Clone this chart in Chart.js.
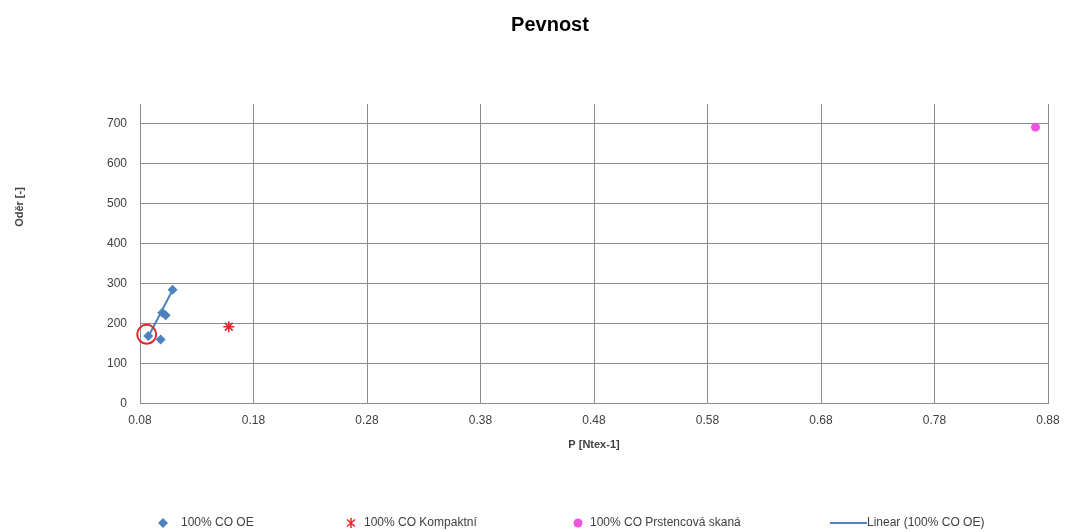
<!DOCTYPE html>
<html>
<head>
<meta charset="utf-8">
<script src="https://cdn.jsdelivr.net/npm/chart.js@4/dist/chart.umd.min.js"></script>
<style>
html,body{margin:0;padding:0;background:#fff;}
#wrap{width:1067px;height:532px;position:relative;}
</style>
</head>
<body>
<div id="wrap"><canvas id="c" width="1067" height="532"></canvas></div>
<script>
// ---- data ----
const chartTitle = "Pevnost";
const xAxisTitle = "P [Ntex-1]";
const yAxisTitle = "Oděr [-]";

const seriesNames = ["100% CO OE", "100% CO Kompaktní", "100% CO Prstencová skaná", "Linear (100% CO OE)"];

const oeP    = [0.0873, 0.0982, 0.0996, 0.1026, 0.1087];
const oeOder = [169, 160, 227, 221, 285];

const kompaktP    = [0.1582];
const kompaktOder = [192];

const prstenP    = [0.869];
const prstenOder = [692];

// trend line end points as drawn in the picture
const trendP    = [0.0873, 0.1087];
const trendOder = [167, 284];

// red circle highlight
const markP    = [0.0859];
const markOder = [173];

const xTicks = [0.08, 0.18, 0.28, 0.38, 0.48, 0.58, 0.68, 0.78, 0.88];
const yTicks = [0, 100, 200, 300, 400, 500, 600, 700];
const yMax = 750;

const toPts = (xs, ys) => xs.map((x, i) => ({x: x, y: ys[i]}));

const blue = '#4F81BD';
const red = '#E3262B';
const pink = '#EE55DD';
const gridCol = '#8C8C8C';
const textCol = '#404040';
const fontFam = '"Liberation Sans", Arial, sans-serif';

const customText = {
  id: 'customText',
  afterDraw(chart) {
    const ctx = chart.ctx;
    ctx.save();
    // y axis title
    ctx.fillStyle = textCol;
    ctx.font = 'bold 11px ' + fontFam;
    ctx.translate(20, 207);
    ctx.rotate(-Math.PI / 2);
    ctx.textAlign = 'center';
    ctx.textBaseline = 'middle';
    ctx.fillText(yAxisTitle, 0, 0);
    ctx.restore();

    // legend
    ctx.save();
    ctx.font = '12px ' + fontFam;
    ctx.textBaseline = 'middle';
    ctx.fillStyle = textCol;
    const y = 523;
    const starts = [158, 346, 573, 830];
    seriesNames.forEach((name, i) => {
      let x = starts[i];
      ctx.save();
      if (i === 0) {
        ctx.fillStyle = blue;
        ctx.beginPath();
        ctx.moveTo(x + 5, y - 5); ctx.lineTo(x + 10, y); ctx.lineTo(x + 5, y + 5); ctx.lineTo(x, y);
        ctx.closePath(); ctx.fill();
        x += 23;
      } else if (i === 1) {
        ctx.strokeStyle = red; ctx.lineWidth = 1.5;
        const cx = x + 5, r = 5;
        ctx.beginPath();
        ctx.moveTo(cx, y - r); ctx.lineTo(cx, y + r);
        ctx.moveTo(cx - r * 0.8, y - r * 0.7); ctx.lineTo(cx + r * 0.8, y + r * 0.7);
        ctx.moveTo(cx + r * 0.8, y - r * 0.7); ctx.lineTo(cx - r * 0.8, y + r * 0.7);
        ctx.stroke();
        x += 18;
      } else if (i === 2) {
        ctx.fillStyle = pink;
        ctx.beginPath(); ctx.arc(x + 5, y, 4.5, 0, Math.PI * 2); ctx.fill();
        x += 17;
      } else {
        ctx.strokeStyle = blue; ctx.lineWidth = 2;
        ctx.beginPath(); ctx.moveTo(x, y); ctx.lineTo(x + 37, y); ctx.stroke();
        x += 37;
      }
      ctx.restore();
      ctx.fillStyle = textCol;
      ctx.fillText(name, x, y);
    });
    ctx.restore();
  }
};

new Chart(document.getElementById('c'), {
  type: 'scatter',
  data: {
    datasets: [
      {
        label: 'mark',
        data: toPts(markP, markOder),
        pointStyle: 'circle',
        pointRadius: 9.5,
        pointHoverRadius: 9.5,
        borderColor: red,
        borderWidth: 2,
        backgroundColor: 'rgba(0,0,0,0)',
        clip: false,
        order: 0
      },
      {
        label: seriesNames[0],
        data: toPts(oeP, oeOder),
        pointStyle: 'rectRot',
        pointRadius: 5,
        backgroundColor: blue,
        borderColor: blue,
        borderWidth: 0,
        order: 1
      },
      {
        label: seriesNames[1],
        data: toPts(kompaktP, kompaktOder),
        pointStyle: 'star',
        pointRadius: 5.5,
        borderColor: red,
        backgroundColor: red,
        borderWidth: 1.5,
        order: 1
      },
      {
        label: seriesNames[2],
        data: toPts(prstenP, prstenOder),
        pointStyle: 'circle',
        pointRadius: 4.5,
        backgroundColor: pink,
        borderColor: pink,
        borderWidth: 0,
        order: 1
      },
      {
        label: seriesNames[3],
        data: toPts(trendP, trendOder),
        showLine: true,
        pointRadius: 0,
        borderColor: blue,
        borderWidth: 2,
        order: 2
      }
    ]
  },
  options: {
    responsive: false,
    animation: false,
    events: [],
    layout: { padding: { left: 52, right: 19, top: 0, bottom: 0 } },
    plugins: {
      legend: { display: false },
      tooltip: { enabled: false },
      title: {
        display: true,
        text: chartTitle,
        color: '#000',
        font: { family: fontFam, size: 20, weight: 'bold' },
        padding: { top: 13, bottom: 67 }
      }
    },
    scales: {
      x: {
        type: 'linear',
        min: xTicks[0],
        max: xTicks[xTicks.length - 1],
        afterBuildTicks: (s) => { s.ticks = xTicks.map(v => ({value: v})); },
        afterFit: (s) => { s.paddingLeft = 0; s.paddingRight = 0; },
        border: { color: gridCol, width: 1 },
        grid: { color: gridCol, lineWidth: 1, drawTicks: false },
        ticks: {
          padding: 10,
          color: textCol,
          font: { family: fontFam, size: 12 },
          callback: (v) => v.toFixed(2)
        },
        title: {
          display: true,
          text: xAxisTitle,
          color: textCol,
          font: { family: fontFam, size: 11, weight: 'bold' },
          padding: { top: 1, bottom: 80 }
        }
      },
      y: {
        type: 'linear',
        min: 0,
        max: yMax,
        afterBuildTicks: (s) => { s.ticks = yTicks.map(v => ({value: v})); },
        afterFit: (s) => { s.width = 88; },
        border: { color: gridCol, width: 1 },
        grid: { color: gridCol, lineWidth: 1, drawTicks: false },
        ticks: {
          padding: 13,
          color: textCol,
          font: { family: fontFam, size: 12 },
          callback: (v) => String(v)
        }
      }
    }
  },
  plugins: [customText]
});
</script>
</body>
</html>
